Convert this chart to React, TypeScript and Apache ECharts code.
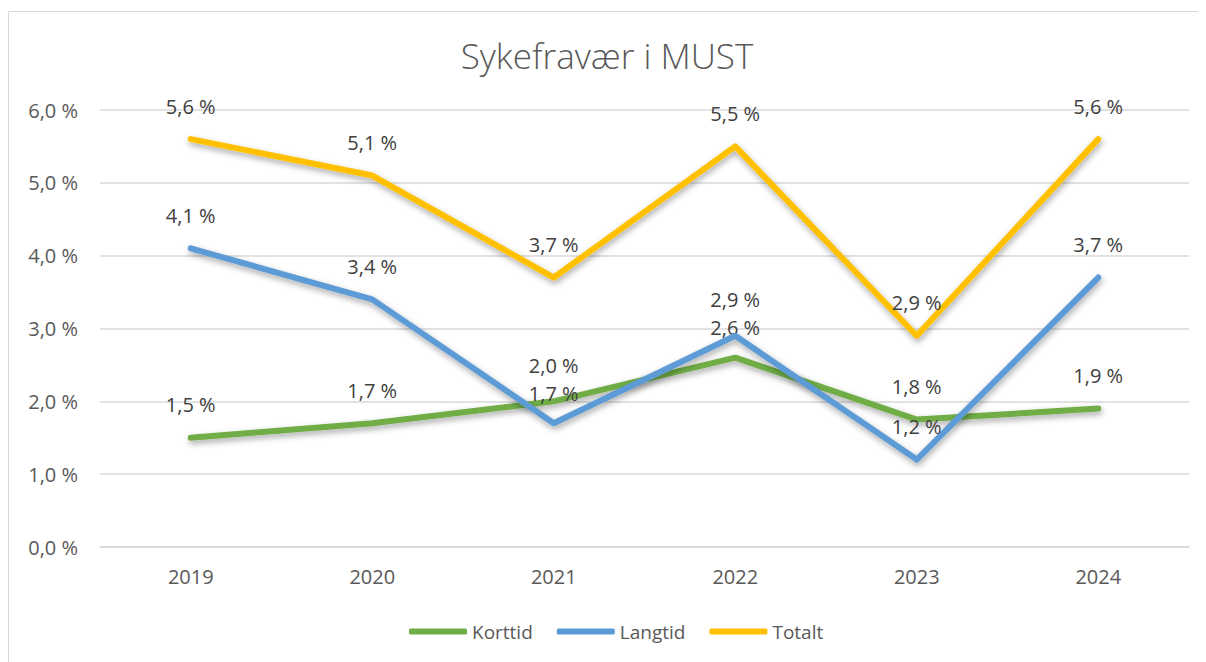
import React, { useEffect, useRef } from "react";
import * as echarts from "echarts";

const years = ["2019", "2020", "2021", "2022", "2023", "2024"];
const korttid = [1.5, 1.7, 2.0, 2.6, 1.75, 1.9];
const langtid = [4.1, 3.4, 1.7, 2.9, 1.2, 3.7];
const totalt = [5.6, 5.1, 3.7, 5.5, 2.9, 5.6];
const seriesNames = ["Korttid", "Langtid", "Totalt"];
const seriesColors = ["#70ad47", "#5b9bd5", "#ffc000"];

const fmt = (v: number) => v.toFixed(1).replace(".", ",") + " %";
const FONT = "'Open Sans', 'Noto Sans', sans-serif";

export default function App() {
  const ref = useRef<HTMLDivElement>(null);
  useEffect(() => {
    if (!ref.current) return;
    const chart = echarts.init(ref.current, undefined, { renderer: "svg" });
    const data = [korttid, langtid, totalt];
    // small vertical nudges so that stacked labels (2021, 2022) do not collide
    const nudge = (seriesIdx: number, dataIdx: number): number => {
      const a = data[0][dataIdx];
      const b = data[1][dataIdx];
      if (Math.abs(a - b) > 0.5 || seriesIdx === 2) return 0;
      const upper = a > b ? 0 : 1;
      return seriesIdx === upper ? -3 : 3;
    };
    chart.setOption({
      animation: false,
      backgroundColor: "#ffffff",
      title: {
        text: "Sykefravær i MUST",
        left: "center",
        top: 25,
        textStyle: { fontFamily: FONT, fontSize: 35, fontWeight: 300, color: "#595959" },
      },
      graphic: [
        {
          type: "rect",
          shape: { x: 0.5, y: 3.5, width: 1400, height: 800 },
          style: { fill: "none", stroke: "#d9d9d9", lineWidth: 1 },
          silent: true,
          z: -1,
        },
      ],
      legend: {
        left: 396,
        top: 609,
        icon: "roundRect",
        itemWidth: 58,
        itemHeight: 6,
        itemGap: 24,
        data: seriesNames,
        textStyle: { fontFamily: FONT, fontSize: 19, color: "#595959" },
      },
      grid: { left: 92, right: 17, top: 102, bottom: 115, containLabel: false },
      xAxis: {
        type: "category",
        data: years,
        boundaryGap: true,
        axisLine: { lineStyle: { color: "#d9d9d9", width: 1.5 } },
        axisTick: { show: false },
        axisLabel: { fontFamily: FONT, fontSize: 20, color: "#595959", margin: 19 },
      },
      yAxis: {
        type: "value",
        min: 0,
        max: 6,
        interval: 1,
        axisLine: { show: false },
        axisTick: { show: false },
        splitLine: { lineStyle: { color: "#d9d9d9", width: 1.5 } },
        axisLabel: {
          fontFamily: FONT,
          fontSize: 20,
          color: "#595959",
          margin: 22,
          formatter: (v: number) => fmt(v),
        },
      },
      series: seriesNames.map((name, i) => ({
        name,
        type: "line",
        data: data[i].map((v, j) => {
          const off = nudge(i, j);
          return off === 0 ? v : { value: v, label: { offset: [0, off] } };
        }),
        color: seriesColors[i],
        symbol: "circle",
        symbolSize: 0.1,
        showSymbol: true,
        itemStyle: { color: seriesColors[i] },
        lineStyle: {
          color: seriesColors[i],
          width: 6,
          cap: "round",
          join: "round",
          shadowColor: "rgba(0,0,0,0.35)",
          shadowBlur: 6,
          shadowOffsetY: 3,
          shadowOffsetX: 1,
        },
        label: {
          show: true,
          position: "top",
          distance: 23,
          fontFamily: FONT,
          fontSize: 20,
          lineHeight: 20,
          color: "#404040",
          formatter: (p: any) => fmt(p.value),
        },
        z: 2 + i,
      })),
    });
    return () => chart.dispose();
  }, []);
  return <div ref={ref} style={{ width: 1198, height: 654 }} />;
}
